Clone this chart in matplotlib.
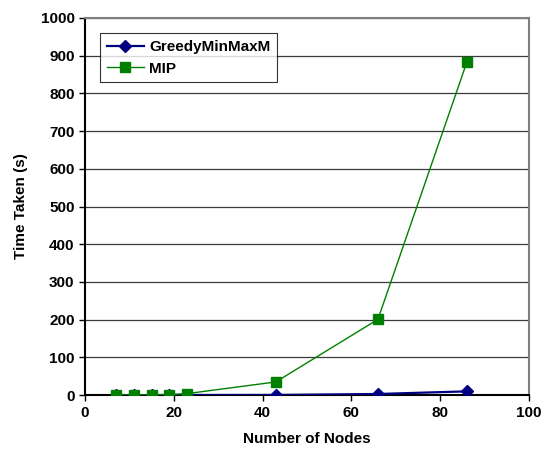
import matplotlib
matplotlib.use("Agg")
import matplotlib.pyplot as plt

nodes = [7, 11, 15, 19, 23, 43, 66, 86]
greedy = [0.1, 0.1, 0.1, 0.2, 0.3, 0.5, 3, 10]
mip = [0.5, 0.8, 1, 1.5, 4, 35, 201, 882]
xticks = [0, 20, 40, 60, 80, 100]
yticks = list(range(0, 1001, 100))

plt.rcParams['font.family'] = ['Liberation Sans', 'DejaVu Sans']
plt.rcParams['font.weight'] = 'bold'

fig = plt.figure(figsize=(5.43, 4.49), dpi=100)
ax = fig.add_axes([0.1565, 0.12, 0.8175, 0.84])

for y in yticks[1:]:
    ax.axhline(y, color='#3a3a3a', linewidth=0.9, zorder=1)

ax.plot(nodes, greedy, color='#000080', marker='D', markersize=6, linewidth=1.6,
        label='GreedyMinMaxM', zorder=3)
ax.plot(nodes, mip, color='#008000', marker='s', markersize=7, linewidth=1.0,
        label='MIP', zorder=4)

ax.set_xlim(0, 100)
ax.set_ylim(0, 1000)
ax.set_xticks(xticks)
ax.set_yticks(yticks)
ax.tick_params(direction='out', length=4, width=1, labelsize=11)
for lab in ax.get_xticklabels() + ax.get_yticklabels():
    lab.set_fontweight('bold')

ax.spines['left'].set_color('black')
ax.spines['left'].set_linewidth(1.5)
ax.spines['bottom'].set_color('black')
ax.spines['bottom'].set_linewidth(1.5)
ax.spines['top'].set_color('#808080')
ax.spines['top'].set_linewidth(1.5)
ax.spines['right'].set_color('#808080')
ax.spines['right'].set_linewidth(1.5)

ax.set_xlabel('Number of Nodes', fontsize=11, fontweight='bold', labelpad=9)
ax.set_ylabel('Time Taken (s)', fontsize=11, fontweight='bold', labelpad=9)

leg = ax.legend(loc='upper left', bbox_to_anchor=(0.034, 0.96),
                frameon=True, fancybox=False, edgecolor='black', borderaxespad=0,
                handlelength=2.4, handletextpad=0.35, borderpad=0.45,
                prop={'weight': 'bold', 'size': 11})
leg.get_frame().set_linewidth(0.8)

fig.savefig('out.png', dpi=100)
